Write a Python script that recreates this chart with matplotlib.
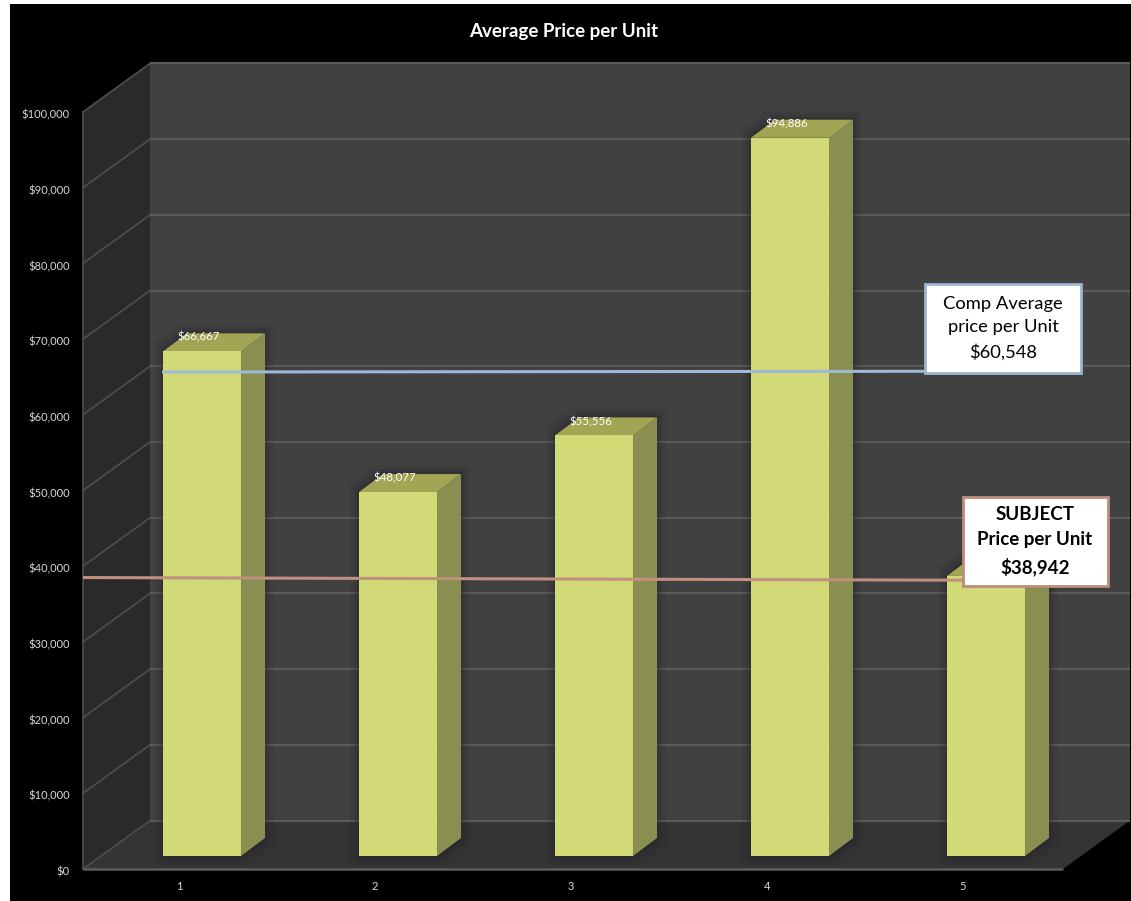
import numpy as np
import matplotlib
matplotlib.use("Agg")
import matplotlib.pyplot as plt
from matplotlib.patches import Rectangle, Polygon
from matplotlib.ticker import FuncFormatter
from matplotlib.transforms import ScaledTranslation

categories = [1, 2, 3, 4, 5]
values = [66667, 48077, 55556, 94886, 37000]
bar_labels = ["$66,667", "$48,077", "$55,556", "$94,886", ""]
y_ticks = list(range(0, 100001, 10000))
title = "Average Price per Unit"
comp_line_y = [65650, 65750]
subject_line_y = [38500, 38150]
comp_text = "Comp Average\nprice per Unit\n$60,548"
subject_text = "SUBJECT\nPrice per Unit\n$38,942"

W, H = 1131, 901
plt.rcParams["font.family"] = ["Lato", "DejaVu Sans"]
fig = plt.figure(figsize=(W / 100, H / 100), dpi=100, facecolor="white")


def fx(px):
    return px / W


def fy(py):
    return 1 - py / H


def frect(x0, y0, x1, y1, **kw):
    r = Rectangle((fx(x0), fy(y1)), fx(x1) - fx(x0), fy(y0) - fy(y1),
                  transform=fig.transFigure, **kw)
    fig.add_artist(r)
    return r


frect(10, 4, W + 2, H + 2, facecolor="black", edgecolor="none", zorder=-10)

ax = fig.add_axes([fx(83), fy(869), fx(1063) - fx(83), fy(112) - fy(869)])
ax.set_zorder(2)
ax.patch.set_alpha(0)
ax.set_xlim(0.51, 5.51)
ax.set_ylim(0, 100000)

ppx = 5 / 980            # category units per pixel
ppy = 100000 / 757       # value units per pixel
DX, DY = 67 * ppx, 48.5 * ppy   # chart depth
BX, BY = 23 * ppx, 13 * ppy     # bar shift off the front plane
SX, SY = 24 * ppx, 18 * ppy     # bar side depth
BW = 78 * ppx
xl, xr = ax.get_xlim()

# walls and floor
wall = dict(clip_on=False, edgecolor="none")
ax.add_patch(Polygon([(xl, 0), (xl + DX, DY), (xl + DX, 100000 + DY), (xl, 100000)],
                     facecolor="#2a2a2a", zorder=1, **wall))
ax.add_patch(Polygon([(xl + DX, DY), (xr + DX, DY), (xr + DX, 100000 + DY), (xl + DX, 100000 + DY)],
                     facecolor="#414141", zorder=1, **wall))
ax.add_patch(Polygon([(xl, 0), (xr, 0), (xr + DX, DY), (xl + DX, DY)],
                     facecolor="#343434", zorder=1, **wall))

# gridlines on the walls
for v in y_ticks:
    ax.plot([xl, xl + DX], [v, v + DY], color="#4c4c4c", lw=1.3, clip_on=False, zorder=2)
    ax.plot([xl + DX, xr + DX], [v + DY, v + DY], color="#5a5a5a", lw=1.5,
            solid_capstyle="butt", clip_on=False, zorder=2)
ax.plot([xl, xr], [0, 0], color="#5c5c5c", lw=1.8, solid_capstyle="butt", clip_on=False, zorder=2)
ax.plot([xl, xl], [0, 100000], color="#4e4e4e", lw=1.2, clip_on=False, zorder=2)

# bars
x = np.array(categories, dtype=float)
vals = np.array(values, dtype=float)
for xi, v in zip(x, vals):
    c0, c1 = xi + BX - BW / 2, xi + BX + BW / 2
    # soft shadow
    for grow, a in ((9, 0.10), (5, 0.14), (2, 0.2)):
        g = grow * ppx
        ax.add_patch(Polygon([(c0 - g, BY - grow * ppy), (c1 + g, BY - grow * ppy),
                              (c1 + SX + g, BY + SY - grow * ppy),
                              (c1 + SX + g, BY + v + SY + grow * ppy),
                              (c0 + SX - g, BY + v + SY + grow * ppy),
                              (c0 - g, BY + v + grow * ppy)],
                             facecolor="#1c1c24", alpha=a, edgecolor="none", zorder=3))
    ax.add_patch(Polygon([(c1, BY), (c1 + SX, BY + SY), (c1 + SX, BY + v + SY), (c1, BY + v)],
                         facecolor="#8a8e50", edgecolor="none", zorder=4))
    ax.add_patch(Polygon([(c0, BY + v), (c1, BY + v), (c1 + SX, BY + v + SY), (c0 + SX, BY + v + SY)],
                         facecolor="#a2a554", edgecolor="none", zorder=4))
ax.bar(x + BX, vals, width=BW, bottom=BY, color="#d2da78", edgecolor="none", zorder=5)

for xi, v, lab in zip(x, vals, bar_labels):
    if lab:
        ax.text(xi + BX - 3 * ppx, BY + v + 14 * ppy, lab, color="white", fontsize=8.3,
                ha="center", va="center", zorder=6)

# reference lines
ax.plot([xl + 79 * ppx, 5.51 - 138 * ppx], comp_line_y, color="#9fbad6", lw=2.2,
        solid_capstyle="butt", clip_on=False, zorder=7)
ax.plot([xl, 5.51 - 100 * ppx], subject_line_y, color="#c0917f", lw=2.2,
        solid_capstyle="butt", clip_on=False, zorder=7)

# axes styling
ax.set_xticks(categories)
ax.set_yticks(y_ticks)
ax.yaxis.set_major_formatter(FuncFormatter(lambda v, _: f"${v:,.0f}"))
ax.tick_params(length=0, colors="#d8d8d8", labelsize=8)
ax.tick_params(axis="y", pad=9.5)
ax.tick_params(axis="x", pad=9)
shift = ScaledTranslation(0, -2 / 100, fig.dpi_scale_trans)
for lab in ax.get_yticklabels():
    lab.set_transform(lab.get_transform() + shift)
for s in ax.spines.values():
    s.set_visible(False)

fig.text(fx(563.5), fy(31), title, color="white", fontsize=13.5, fontweight="bold",
         ha="center", va="center", zorder=10)

# callouts
frect(925, 284, 1081, 373, facecolor="white", edgecolor="#9db6d0", linewidth=2.0, zorder=10)
fig.text(fx(1003), fy(328), comp_text, color="black", fontsize=13.2, ha="center", va="center",
         linespacing=1.6, zorder=11)
frect(963, 497, 1108, 586, facecolor="white", edgecolor="#bd8c7c", linewidth=2.0, zorder=10)
fig.text(fx(1035), fy(541), subject_text, color="black", fontsize=13.5, fontweight="bold",
         ha="center", va="center", linespacing=1.6, zorder=11)

fig.savefig("out.png", dpi=100, facecolor=fig.get_facecolor())
